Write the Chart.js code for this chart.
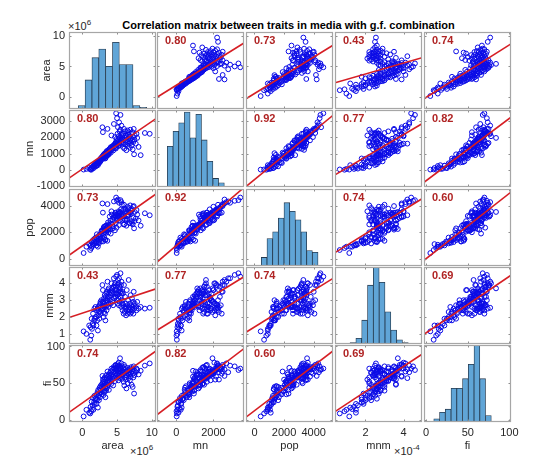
<!DOCTYPE html>
<html>
<head>
<meta charset="utf-8">
<style>
  body { margin: 0; background: #fff; }
  #fig { position: relative; width: 551px; height: 462px; overflow: hidden; background: #fff;
         font-family: "Liberation Sans", Arial, Helvetica, sans-serif; color: #262626; }
  #fig canvas { position: absolute; }
  .txt { position: absolute; font-size: 11px; line-height: 13px; white-space: nowrap; }
  .txt .ex { font-size: 8px; position: relative; top: -5px; }
  #title { left: 0; width: 577px; top: 19px; text-align: center; font-weight: bold; color: #000; }
</style>
</head>
<body>
<div id="fig">
  <div class="txt" id="title">Correlation matrix between traits in media with g.f. combination</div>
  <div class="txt" style="left:68px;top:20px">×10<span class="ex">6</span></div>
  <div class="txt" style="left:130px;top:445px">×10<span class="ex">6</span></div>
  <div class="txt" style="left:394px;top:445px">×10<span class="ex">-4</span></div>
</div>

<script src="https://cdn.jsdelivr.net/npm/chart.js"></script>

<script>
  const vars = ['area', 'mn', 'pop', 'mnm', 'fi'];

  // one value per sample, area in 1e6 units, mnm in 1e-4 units
  const area = [0.2, 0.6, 1.0,
    1.15, 1.2, 1.3, 1.35, 1.4, 1.5, 1.55, 1.6, 1.7, 1.75, 1.8, 1.9, 1.95,
    2.0, 2.05, 2.1, 2.15, 2.2, 2.25, 2.3, 2.35, 2.4, 2.45, 2.5, 2.55, 2.6, 2.62, 2.65, 2.7, 2.75, 2.8, 2.85, 2.9, 2.93, 2.97, 2.99,
    3.0, 3.03, 3.07, 3.1, 3.13, 3.17, 3.2, 3.23, 3.27, 3.3, 3.33, 3.37, 3.4, 3.43, 3.47, 3.5, 3.53, 3.57, 3.6, 3.63, 3.67, 3.7, 3.73, 3.77, 3.8, 3.83, 3.87,
    3.9, 3.95, 4.0, 4.05, 4.1, 4.15, 4.2, 4.25, 4.3, 4.35, 4.4, 4.45, 4.5, 4.55, 4.6, 4.65, 4.7, 4.72, 4.75, 4.78,
    4.8, 4.83, 4.87, 4.9, 4.93, 4.97, 5.0, 5.03, 5.07, 5.1, 5.13, 5.17, 5.2, 5.23, 5.27, 5.3, 5.33, 5.37, 5.4, 5.43, 5.47, 5.5, 5.53, 5.57, 5.6, 5.63, 5.67, 5.7, 5.73, 5.77,
    5.8, 5.85, 5.9, 5.95, 6.0, 6.05, 6.1, 6.15, 6.2, 6.25, 6.3, 6.35, 6.4, 6.45, 6.5, 6.55, 6.6, 6.63, 6.67, 6.69,
    6.75, 6.8, 6.85, 6.9, 6.95, 7.0, 7.05, 7.1, 7.15, 7.2, 7.25, 7.3, 7.35, 7.4, 7.45, 7.5, 7.55,
    7.7, 7.8, 7.9, 8.1, 8.4,
    9.0, 9.7];
  const mn = [20, 60, 120,
    30, 60, 10, 110, 150, 80, 200, 240, 130, 300, 260, 350, 220,
    380, 250, 420, 330, 500, 290, 450, 520, 400, 600, 470, 560, 650, 520, 700, 610, 740, 680, 800, 2600, 720, 2300, 860,
    760, 900, 680, 820, 950, 730, 860, 1000, 790, 920, 700, 1050, 880, 980, 1100, 830, 1150, 940, 1020, 2500, 1080, 900, 1200, 1000, 1130, 960, 1250,
    1100, 1280, 1150, 1350, 1050, 1400, 2100, 1220, 1380, 1300, 1450, 1180, 1500, 2800, 1420, 1550, 1320, 2000, 1600, 1480,
    1650, 1300, 3450, 1750, 1400, 1900, 3150, 1550, 2200, 1680, 2600, 1450, 1850, 2050, 1600, 2900, 1750, 2350, 1500, 1950, 2450, 3350, 1800, 2150, 1700, 2700, 1900, 2250, 1600, 2050,
    1850, 1400, 2200, 1650, 2500, 1300, 1950, 2350, 1550, 1800, 2100, 1200, 2000, 1700, 2400, 1450, 1900, 2150, 1600, 2300,
    1750, 2050, 1350, 2450, 1650, 1900, 2200, 1500, 1800, 2300, 1250, 2000, 1700, 2500, 950, 1850, 2100,
    1600, 2200, 1950, 1400, 900,
    2250, 2200];
  const pop = [420, 900, 1100,
    650, 1000, 800, 1250, 900, 1100, 1400, 1050, 1300, 1500, 1150, 1250, 1600,
    1200, 1000, 1850, 1350, 1500, 900, 1700, 1250, 1150, 1400, 1800, 1650, 1500, 1500, 1850, 1300, 2050, 2150, 1600, 4200, 2150, 3500, 1950,
    1300, 2100, 1500, 2400, 2300, 1600, 2200, 2450, 2000, 1450, 1400, 2200, 2500, 1950, 2500, 2100, 2350, 2150, 1350, 4150, 2400, 2750, 2600, 2000, 2250, 2300, 2550,
    2500, 3200, 2200, 2900, 1900, 2650, 3600, 3350, 2550, 3000, 2300, 2450, 3100, 4350, 3300, 3150, 2150, 3300, 3200, 3450,
    3500, 2700, 4650, 3350, 2350, 3100, 4400, 2950, 3200, 3250, 4500, 3300, 3450, 3600, 2550, 4250, 2900, 3450, 3150, 3550, 3500, 4450, 3300, 3750, 3350, 4300, 3400, 4100, 3200, 2950,
    3300, 3400, 3700, 2600, 4100, 2600, 2950, 3800, 2950, 3750, 3600, 2500, 2900, 3000, 3950, 3250, 3350, 3550, 3300, 3850,
    2700, 3500, 2700, 4050, 3500, 3400, 3650, 2850, 2700, 3750, 2600, 3950, 3100, 4000, 2300, 2850, 3550,
    3050, 3700, 3350, 2900, 2500,
    3450, 3300];
  const mnm = [1.15, 1.0, 1.5,
    0.65, 1.4, 0.9, 1.9, 1.3, 1.6, 2.2, 1.5, 1.8, 2.5, 1.9, 2.6, 2.0,
    2.0, 1.5, 2.4, 1.8, 2.5, 1.2, 2.6, 2.1, 2.3, 1.9, 2.7, 2.3, 2.8, 2.9, 2.2, 2.6, 3.0, 2.4, 2.5, 3.9, 2.9, 3.6, 2.7,
    2.5, 2.9, 2.0, 2.6, 3.1, 2.3, 2.8, 3.3, 2.2, 2.7, 1.8, 3.2, 2.6, 3.0, 3.4, 2.4, 3.5, 2.7, 3.0, 4.1, 3.1, 3.2, 3.6, 2.6, 3.7, 2.8, 3.4,
    3.2, 3.0, 3.5, 3.3, 2.8, 3.6, 4.0, 3.4, 2.9, 3.7, 3.5, 2.7, 3.8, 4.3, 3.1, 3.9, 3.2, 3.6, 4.0, 3.4,
    3.8, 3.2, 4.4, 3.4, 3.6, 3.0, 4.5, 3.3, 3.9, 2.8, 4.2, 3.5, 3.1, 4.0, 2.7, 4.3, 3.6, 3.8, 2.9, 3.7, 3.5, 4.6, 3.2, 3.9, 2.6, 4.1, 3.4, 3.0, 3.5, 2.8,
    2.4, 3.4, 2.7, 2.2, 3.9, 2.6, 2.3, 3.2, 2.5, 2.8, 2.1, 2.6, 3.6, 2.4, 2.7, 2.2, 3.0, 2.5, 4.2, 2.3,
    2.6, 2.4, 2.8, 2.2, 3.3, 2.5, 2.7, 2.3, 3.1, 2.6, 2.4, 2.9, 2.2, 3.5, 2.7, 2.5, 2.8,
    2.6, 2.4, 2.9, 2.5, 2.6,
    2.5, 2.55];
  const fi = [5, 14, 10,
    9, 18, 12, 25, 15, 20, 30, 14, 24, 33, 22, 29, 27,
    30, 22, 35, 28, 38, 17, 41, 33, 27, 36, 44, 31, 40, 46, 37, 42, 48, 35, 45, 60, 50, 55, 39,
    42, 52, 34, 47, 56, 38, 50, 58, 44, 46, 31, 54, 49, 40, 61, 43, 57, 51, 45, 66, 53, 59, 48, 55, 62, 41, 57,
    60, 52, 64, 58, 66, 49, 70, 62, 55, 68, 59, 47, 72, 65, 57, 70, 53, 63, 74, 61,
    75, 66, 70, 68, 71, 62, 73, 58, 76, 64, 69, 72, 54, 78, 60, 74, 66, 71, 57, 84, 63, 68, 70, 59, 65, 77, 62, 73, 56, 67,
    61, 66, 70, 52, 75, 47, 64, 72, 58, 69, 55, 43, 66, 60, 71, 50, 63, 68, 57, 65,
    62, 67, 54, 70, 59, 64, 72, 48, 66, 69, 45, 63, 58, 73, 36, 61, 67,
    65, 70, 68, 62, 67,
    74, 77];
  const traits = [area, mn, pop, mnm, fi];

  // correlation coefficients printed in each panel
  const corrMatrix = [
    [1, 0.80, 0.73, 0.43, 0.74],
    [0.80, 1, 0.92, 0.77, 0.82],
    [0.73, 0.92, 1, 0.74, 0.60],
    [0.43, 0.77, 0.74, 1, 0.69],
    [0.74, 0.82, 0.60, 0.69, 1]
  ];

  // histograms on the diagonal (10 bins each)
  const histCounts = [
    [2, 17, 30, 35, 25, 39, 26, 26, 2, 1],
    [19, 26, 30, 35, 23, 34, 22, 12, 4, 2],
    [5, 16, 20, 28, 37, 32, 27, 20, 9, 8],
    [1, 4, 17, 42, 55, 44, 23, 10, 3, 1],
    [2, 6, 8, 21, 21, 27, 36, 48, 27, 4]
  ];
  const histLo = [-0.57, -485, 463, 1.19, 9.15];
  const histHi = [9.26, 2588, 4290, 4.25, 78.3];
  const histMax = [45, 36, 45, 55, 48];

  // axis limits and ticks for each trait
  const axisMin = [-1.9, -1040, -570, 0.4, -2.6];
  const axisMax = [10.6, 3650, 5300, 4.97, 102];
  const xTicks = [[0, 5, 10], [0, 2000], [0, 2000, 4000], [2, 4], [0, 50, 100]];
  const yTicks = [[0, 5, 10], [-1000, 0, 1000, 2000, 3000], [0, 2000, 4000], [1, 2, 3, 4], [0, 50, 100]];

  // layout
  const colLeft = [69, 157, 246, 335, 424];
  const rowTop = [32, 110, 189, 267, 345];
  const panelW = 87, panelH = 77;
  const yAxisW = [29, 46, 46, 26, 28];
  const xAxisH = 31;
  const pad = 10;

  const fontSpec = { family: '"Liberation Sans", Arial, Helvetica, sans-serif', size: 11 };
  const textColor = '#262626';
  const fig = document.getElementById('fig');

  function fitLine(xs, ys) {
    const n = xs.length;
    let mx = 0, my = 0;
    for (let i = 0; i < n; i++) { mx += xs[i]; my += ys[i]; }
    mx /= n; my /= n;
    let sxy = 0, sxx = 0;
    for (let i = 0; i < n; i++) {
      sxy += (xs[i] - mx) * (ys[i] - my);
      sxx += (xs[i] - mx) * (xs[i] - mx);
    }
    const b = sxy / sxx;
    return { a: my - b * mx, b };
  }

  // box, inward ticks and r label
  const panelDeco = {
    id: 'panelDeco',
    afterDatasetsDraw(chart, args, opts) {
      const { ctx, chartArea: a, scales } = chart;
      ctx.save();
      ctx.strokeStyle = '#8c8c8c';
      ctx.lineWidth = 1;
      ctx.beginPath();
      opts.xt.forEach(v => {
        const px = Math.round(scales.x.getPixelForValue(v)) + 0.5;
        ctx.moveTo(px, a.bottom); ctx.lineTo(px, a.bottom - 2.5);
        ctx.moveTo(px, a.top); ctx.lineTo(px, a.top + 2.5);
      });
      opts.yt.forEach(v => {
        const py = Math.round(scales.y.getPixelForValue(v)) + 0.5;
        ctx.moveTo(a.left, py); ctx.lineTo(a.left + 2.5, py);
        ctx.moveTo(a.right, py); ctx.lineTo(a.right - 2.5, py);
      });
      ctx.stroke();
      ctx.strokeStyle = '#a6a6a6';
      ctx.lineWidth = 1.2;
      ctx.strokeRect(a.left + 0.5, a.top + 0.5, a.width - 1, a.height - 1);
      if (opts.label) {
        ctx.fillStyle = '#b02424';
        ctx.font = 'bold 11px "Liberation Sans", Arial, Helvetica, sans-serif';
        ctx.textBaseline = 'middle';
        ctx.fillText(opts.label, a.left + 8, a.top + 8.5);
      }
      ctx.restore();
    }
  };

  for (let r = 0; r < 5; r++) {
    for (let c = 0; c < 5; c++) {
      const yw = c === 0 ? yAxisW[r] : 0;
      const xh = r === 4 ? xAxisH : 0;
      const w = panelW + 2 * pad + yw;
      const h = panelH + 2 * pad + xh;
      const cv = document.createElement('canvas');
      cv.width = w; cv.height = h;
      cv.style.left = (colLeft[c] - pad - yw) + 'px';
      cv.style.top = (rowTop[r] - pad) + 'px';
      cv.style.width = w + 'px';
      cv.style.height = h + 'px';
      fig.appendChild(cv);

      const scales = {
        x: {
          type: 'linear', position: 'bottom', min: axisMin[c], max: axisMax[c], display: r === 4,
          offset: false,
          grid: { display: false, drawTicks: false, offset: false }, border: { display: false },
          ticks: { padding: 4, font: fontSpec, color: textColor, autoSkip: false, maxRotation: 0, callback: v => String(v) },
          title: { display: true, text: vars[c], font: fontSpec, color: textColor, padding: 0 },
          afterBuildTicks: s => { s.ticks = xTicks[c].map(v => ({ value: v })); },
          afterFit: s => {
            if (r === 4) s.height = xAxisH;
            s.paddingLeft = 0; s.paddingRight = 0;
          }
        },
        y: {
          type: 'linear', position: 'left', min: axisMin[r], max: axisMax[r], display: c === 0,
          offset: false,
          grid: { display: false, drawTicks: false }, border: { display: false },
          ticks: { padding: 4, font: fontSpec, color: textColor, autoSkip: false, callback: v => String(v) },
          title: { display: true, text: vars[r], font: fontSpec, color: textColor, padding: 0 },
          afterBuildTicks: s => { s.ticks = yTicks[r].map(v => ({ value: v })); },
          afterFit: s => {
            if (c === 0) s.width = yAxisW[r];
            s.paddingTop = 0; s.paddingBottom = 0;
          }
        }
      };

      let datasets;
      if (r === c) {
        const counts = histCounts[r];
        const bw = (histHi[r] - histLo[r]) / counts.length;
        scales.yh = { type: 'linear', display: false, min: 0, max: histMax[r] };
        datasets = [{
          type: 'bar',
          data: counts.map((n, k) => ({ x: histLo[r] + bw * (k + 0.5), y: n })),
          yAxisID: 'yh',
          backgroundColor: 'rgb(96,165,215)',
          borderColor: 'rgb(38,58,78)',
          borderWidth: 0.8,
          borderSkipped: false,
          barPercentage: 1,
          categoryPercentage: 1
        }];
      } else {
        const xs = traits[c], ys = traits[r];
        const f = fitLine(xs, ys);
        datasets = [
          {
            type: 'line',
            data: [
              { x: axisMin[c], y: f.a + f.b * axisMin[c] },
              { x: axisMax[c], y: f.a + f.b * axisMax[c] }
            ],
            borderColor: 'rgb(214,30,36)',
            borderWidth: 1.6,
            pointRadius: 0,
            fill: false
          },
          {
            type: 'scatter',
            data: xs.map((v, i) => ({ x: v, y: ys[i] })),
            pointStyle: 'circle',
            pointRadius: 2.4,
            borderWidth: 1,
            borderColor: 'rgb(10,10,230)',
            backgroundColor: 'rgba(0,0,0,0)',
            clip: false
          }
        ];
      }

      new Chart(cv, {
        type: 'scatter',
        data: { datasets },
        options: {
          responsive: false,
          animation: false,
          devicePixelRatio: 1,
          events: [],
          layout: { padding: pad },
          scales,
          plugins: {
            legend: { display: false },
            tooltip: { enabled: false },
            panelDeco: {
              xt: xTicks[c],
              yt: yTicks[r],
              label: r === c ? '' : corrMatrix[r][c].toFixed(2)
            }
          }
        },
        plugins: [panelDeco]
      });
    }
  }
</script>
</body>
</html>
